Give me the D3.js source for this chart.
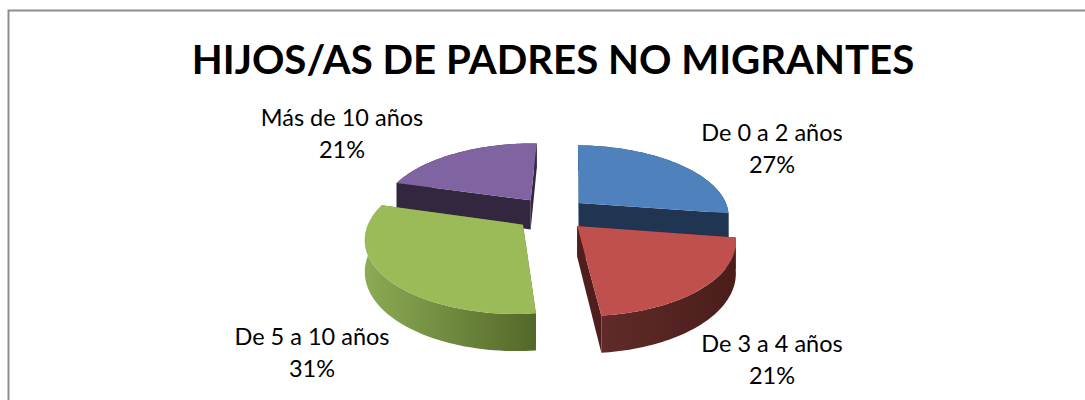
<!DOCTYPE html>
<html><head><meta charset="utf-8">
<script src="https://cdn.jsdelivr.net/npm/d3@7/dist/d3.min.js"></script>
<style>html,body{margin:0;background:#fff}svg{display:block}text{font-family:Lato,"Open Sans",sans-serif;fill:#000}</style>
</head><body><svg id="c" width="1085" height="400"></svg>
<script>
const titleText = "HIJOS/AS DE PADRES NO MIGRANTES";
const categories = ["De 0 a 2 años","De 3 a 4 años","De 5 a 10 años","Más de 10 años"];
const values = [27,21,31,21];
const topColors = ["#4F81BD","#C0504D","#9BBB59","#8064A2"];
const wallLeft = ["#1F3552","#602B28","#8CAB54","#33273F"];
const wallRight = ["#1F3552","#4A1D1B","#536829","#33273F"];
const sideColors = ["#1F3552","#4F1E1D","#536829","#33273F"];
const labelPos = [[772,133],[772,344],[312,337],[342,118]];

const svg = d3.select("#c");
const cx=551.5, cy=213.5, rx=151, ry=70.4, persp=0.166, depth=30, explode=0.24, rotation=0.025;
const project=(X,Z,h=0)=>{const k=1+persp*Z;return [cx+X*rx/k, cy-Z*ry/k+h*depth/k];};
const line=d3.line();
const defs=svg.append("defs");
const slices=d3.pie().sort(null).startAngle(rotation).endAngle(rotation+2*Math.PI).value(d=>d)(values);
const arcs=slices.map((s,i)=>{
  const mid=(s.startAngle+s.endAngle)/2;
  const ox=Math.sin(mid)*explode, oz=Math.cos(mid)*explode;
  const n=60, pts=d3.range(n+1).map(j=>{const a=s.startAngle+(s.endAngle-s.startAngle)*j/n;return [ox+Math.sin(a),oz+Math.cos(a)];});
  return {i,ox,oz,pts};
});
arcs.forEach(a=>{
  const g=defs.append("linearGradient").attr("id","w"+a.i);
  g.append("stop").attr("offset","0").attr("stop-color",wallLeft[a.i]);
  g.append("stop").attr("offset","1").attr("stop-color",wallRight[a.i]);
});
const order=[3,0,2,1];
order.forEach(i=>{
  const a=arcs[i], g=svg.append("g");
  const top=a.pts.map(p=>project(p[0],p[1],0)), bot=a.pts.map(p=>project(p[0],p[1],1));
  const c0=project(a.ox,a.oz,0), c1=project(a.ox,a.oz,1);
  [a.pts[0],a.pts[a.pts.length-1]].forEach(p=>{
    g.append("path").attr("d",line([c0,project(p[0],p[1],0),project(p[0],p[1],1),c1])+"Z").attr("fill",sideColors[i]);
  });
  g.append("path").attr("d",line(top.concat(bot.slice().reverse()))+"Z").attr("fill",`url(#w${i})`);
  g.append("path").attr("d",line([c0].concat(top))+"Z").attr("fill",topColors[i]);
});
const stroke="#8E8E8E";
svg.append("path").attr("d",line([[8.5,400],[8.5,10.5],[1085,10.5]])).attr("fill","none").attr("stroke",stroke).attr("stroke-width",2);
svg.append("text").attr("x",553).attr("y",74).attr("text-anchor","middle").attr("font-size",40.2).attr("font-weight",700).text(titleText);
categories.forEach((c,i)=>{
  const t=svg.append("text").attr("text-anchor","middle").attr("font-size",23.5);
  t.append("tspan").attr("x",labelPos[i][0]).attr("y",labelPos[i][1]+8).text(c);
  t.append("tspan").attr("x",labelPos[i][0]).attr("y",labelPos[i][1]+40).text(values[i]+"%");
});
</script></body></html>
